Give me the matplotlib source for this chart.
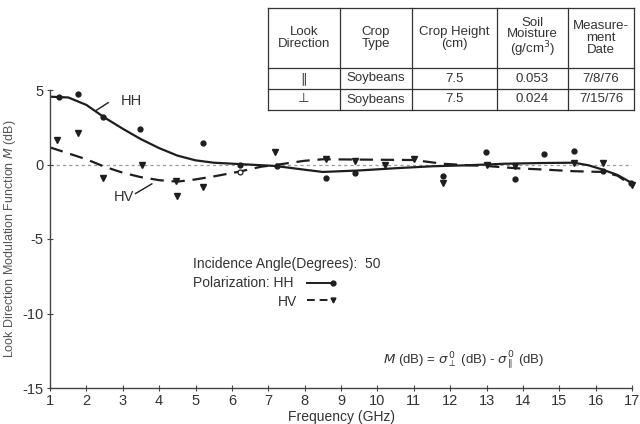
import numpy as np
import matplotlib
matplotlib.use("Agg")
import matplotlib.pyplot as plt

plt.rcParams['font.family'] = ['Liberation Sans', 'DejaVu Sans']
plt.rcParams['axes.unicode_minus'] = False

ink = "#1e1e1e"
txt = "#333333"

# measured points
hh_freq = [1.26, 1.78, 2.46, 3.47, 5.21, 6.22, 7.23, 8.58, 9.38, 11.8, 12.99, 13.77, 14.57, 15.4, 16.2, 16.98]
hh_m = [4.5, 4.72, 3.2, 2.35, 1.46, 0.0, -0.08, -0.88, -0.59, -0.77, 0.82, -0.99, 0.7, 0.9, -0.41, -1.26]

hv_freq = [1.2, 1.78, 2.46, 3.52, 4.46, 4.48, 5.21, 7.18, 8.58, 9.38, 10.2, 11.0, 11.8, 13.0, 13.77, 15.4, 16.2, 17.0]
hv_m = [1.64, 2.09, -0.92, 0.0, -1.1, -2.1, -1.53, 0.82, 0.35, 0.25, 0.0, 0.35, -1.26, 0.0, -0.1, 0.1, 0.12, -1.4]

# open symbol near 6.2 GHz
hv_open_freq = [6.22]
hv_open_m = [-0.48]

# hand-drawn fitted curves
hh_fit_x = [1.0, 1.5, 2.0, 2.5, 3.0, 3.5, 4.0, 4.5, 5.0, 5.5, 6.2, 7.2, 8.0, 8.5, 9.5, 10.5, 11.5, 12.5, 13.5, 14.5, 15.4, 15.8, 16.2, 16.6, 17.0]
hh_fit_y = [4.55, 4.5, 4.0, 3.15, 2.4, 1.7, 1.1, 0.6, 0.28, 0.12, 0.03, -0.1, -0.35, -0.5, -0.4, -0.25, -0.12, -0.05, 0.05, 0.1, 0.12, -0.05, -0.35, -0.7, -1.25]

hv_fit_x = [1.0, 1.5, 2.0, 2.5, 3.0, 3.5, 4.0, 4.5, 5.0, 5.5, 6.2, 6.8, 7.2, 8.0, 8.5, 10.0, 11.0, 11.8, 12.5, 13.0, 13.8, 14.5, 15.4, 16.2, 16.6, 17.0]
hv_fit_y = [1.15, 0.75, 0.35, -0.15, -0.55, -0.85, -1.05, -1.15, -1.0, -0.8, -0.48, -0.15, -0.03, 0.25, 0.35, 0.32, 0.3, 0.05, -0.05, -0.1, -0.25, -0.33, -0.45, -0.5, -0.75, -1.4]

col_heads = ["Look\nDirection", "Crop\nType", "Crop Height\n(cm)",
             "Soil\nMoisture\n(g/cm$^3$)", "Measure-\nment\nDate"]
rows = [["\u2225", "Soybeans", "7.5", "0.053", "7/8/76"],
        ["\u22a5", "Soybeans", "7.5", "0.024", "7/15/76"]]

fig = plt.figure(figsize=(6.4, 4.24), dpi=100)
ax = fig.add_axes([50/640, 36/424, 582/640, 298/424])

ax.axhline(0, color="#9a9a9a", lw=0.9, ls=(0, (2.5, 2.5)), zorder=1)
ax.plot(hh_fit_x, hh_fit_y, color=ink, lw=1.6, zorder=2)
ax.plot(hv_fit_x, hv_fit_y, color=ink, lw=1.6, ls=(0, (6, 3.5)), zorder=2)
ax.plot(hh_freq, hh_m, "o", ms=3.5, color=ink, zorder=3, clip_on=False)
ax.plot(hv_freq, hv_m, "v", ms=4.0, color=ink, zorder=3, clip_on=False)
ax.plot(hv_open_freq, hv_open_m, "o", ms=3.5, mfc="white", mec=ink, mew=0.9, zorder=3)

ax.set_xlim(1, 17)
ax.set_ylim(-15, 5)
ax.set_xticks(range(1, 18))
ax.set_yticks([5, 0, -5, -10, -15])
for s in ["top", "right"]:
    ax.spines[s].set_visible(False)
for s in ["left", "bottom"]:
    ax.spines[s].set_color("#444444")
    ax.spines[s].set_linewidth(1.0)
ax.tick_params(direction="inout", length=5, width=0.8, colors="#444444",
               labelcolor=txt, labelsize=10.5, pad=2)
ax.set_xlabel("Frequency (GHz)", fontsize=10, color=txt, labelpad=1)
ax.set_ylabel("Look Direction Modulation Function $M$ (dB)", fontsize=9,
              color="#555555", labelpad=3)

# curve labels
ax.text(2.95, 4.25, "HH", fontsize=10.5, color=txt, va="center")
ax.plot([2.28, 2.6], [3.65, 4.15], color=ink, lw=1.0)
ax.text(2.75, -2.2, "HV", fontsize=10.5, color=txt, va="center")
ax.plot([3.35, 3.8], [-1.95, -1.3], color=ink, lw=1.0)

# key
ax.text(4.93, -6.65, "Incidence Angle(Degrees):  50", fontsize=10, color=txt, va="center")
ax.text(4.93, -7.95, "Polarization: HH", fontsize=10, color=txt, va="center")
ax.text(7.26, -9.2, "HV", fontsize=10, color=txt, va="center")
ax.plot([8.06, 8.77], [-7.95, -7.95], color=ink, lw=1.4)
ax.plot([8.77], [-7.95], "o", ms=3.5, color=ink)
ax.plot([8.06, 8.77], [-9.1, -9.1], color=ink, lw=1.4, ls=(0, (4, 2.5)))
ax.plot([8.77], [-9.1], "v", ms=3.5, color=ink)

ax.text(10.15, -13.1,
        r"$M$ (dB) = $\sigma^{\,0}_{\perp}$ (dB) - $\sigma^{\,0}_{\parallel}$ (dB)",
        fontsize=9.5, color=txt, va="center")

# parameter table
col_edges = [268, 340, 412, 497, 568, 634]
row_edges = [8, 68, 89, 110]
tab = fig.add_axes([0, 0, 1, 1])
tab.set_xlim(0, 640)
tab.set_ylim(424, 0)
tab.axis("off")
for x in col_edges:
    tab.plot([x, x], [row_edges[0], row_edges[-1]], color="#333333", lw=0.9)
for y in row_edges:
    tab.plot([col_edges[0], col_edges[-1]], [y, y], color="#333333", lw=0.9)
for i, head in enumerate(col_heads):
    cx = (col_edges[i] + col_edges[i + 1]) / 2
    tab.text(cx, (row_edges[0] + row_edges[1]) / 2, head, ha="center", va="center",
             fontsize=9.5, color=txt, linespacing=0.95)
for r, row in enumerate(rows):
    cy = (row_edges[r + 1] + row_edges[r + 2]) / 2
    for i, val in enumerate(row):
        cx = (col_edges[i] + col_edges[i + 1]) / 2
        tab.text(cx, cy, val, ha="center", va="center", fontsize=9.5, color=txt)

fig.savefig("out.png", dpi=100)
